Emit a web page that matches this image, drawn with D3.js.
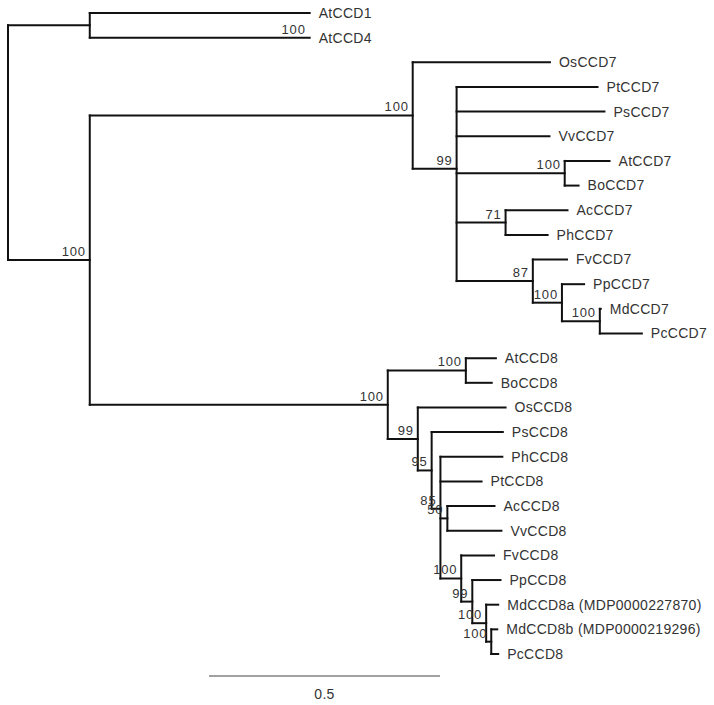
<!DOCTYPE html>
<html>
<head>
<meta charset="utf-8">
<script src="https://cdn.jsdelivr.net/npm/d3@7/dist/d3.min.js"></script>
<style>
  html, body { margin: 0; padding: 0; background: #fff; }
  svg { display: block; }
  .leaf { font-family: "Liberation Sans", Arial, sans-serif; font-size: 14px; fill: #333; letter-spacing: 0.3px; }
  .sup { font-family: "Liberation Sans", Arial, sans-serif; font-size: 13px; fill: #333; letter-spacing: 0.8px; }
</style>
</head>
<body>
<svg id="chart" width="714" height="705"></svg>
<script>
// Tree topology (parent of each node), branch lengths (substitutions/site) and bootstrap support
const nodeIds = [
  "root",
  "N_At14", "AtCCD1", "AtCCD4",
  "N_main",
  "N_CCD7", "OsCCD7", "N7_99", "PtCCD7", "PsCCD7", "VvCCD7",
  "N7_AtBo", "AtCCD7", "BoCCD7",
  "N7_AcPh", "AcCCD7", "PhCCD7",
  "N7_Fv", "FvCCD7", "N7_Pp", "PpCCD7", "N7_MdPc", "MdCCD7", "PcCCD7",
  "N_CCD8", "N8_AtBo", "AtCCD8", "BoCCD8",
  "N8_99", "OsCCD8", "N8_95", "PsCCD8", "N8_85", "PhCCD8", "PtCCD8",
  "N8_50", "AcCCD8", "VvCCD8",
  "N8_Fv", "FvCCD8", "N8_Pp", "PpCCD8", "N8_Md", "MdCCD8a (MDP0000227870)",
  "N8_MdPc", "MdCCD8b (MDP0000219296)", "PcCCD8"
];
const parentIds = [
  "",
  "root", "N_At14", "N_At14",
  "root",
  "N_main", "N_CCD7", "N_CCD7", "N7_99", "N7_99", "N7_99",
  "N7_99", "N7_AtBo", "N7_AtBo",
  "N7_99", "N7_AcPh", "N7_AcPh",
  "N7_99", "N7_Fv", "N7_Fv", "N7_Pp", "N7_Pp", "N7_MdPc", "N7_MdPc",
  "N_main", "N_CCD8", "N8_AtBo", "N8_AtBo",
  "N_CCD8", "N8_99", "N8_99", "N8_95", "N8_95", "N8_85", "N8_85",
  "N8_85", "N8_50", "N8_50",
  "N8_85", "N8_Fv", "N8_Fv", "N8_Pp", "N8_Pp", "N8_Md",
  "N8_Md", "N8_MdPc", "N8_MdPc"
];
const branchLengths = [
  0,
  0.177, 0.476, 0.476,
  0.177,
  0.699, 0.297, 0.095, 0.305, 0.320, 0.201,
  0.234, 0.097, 0.030,
  0.106, 0.134, 0.091,
  0.165, 0.074, 0.063, 0.048, 0.082, 0.002, 0.091,
  0.645, 0.169, 0.065, 0.056,
  0.065, 0.190, 0.030, 0.154, 0.019, 0.134, 0.089,
  0.015, 0.102, 0.117,
  0.045, 0.071, 0.024, 0.061, 0.030, 0.026,
  0.011, 0.013, 0.015
];
const supports = [
  null,
  null, null, 100,
  100,
  100, null, 99, null, null, null,
  100, null, null,
  71, null, null,
  87, null, 100, null, 100, null, null,
  100, 100, null, null,
  99, null, 95, null, 85, null, null,
  50, null, null,
  100, null, 99, null, 100, null,
  100, null, null
];
const scaleBarValue = 0.5;
const scaleBarLabel = "0.5";

const table = nodeIds.map((id, i) => ({
  id, parent: parentIds[i] || null, len: branchLengths[i], support: supports[i], order: i
}));

const root = d3.stratify().id(d => d.id).parentId(d => d.parent)(table);
root.sort((a, b) => a.data.order - b.data.order);

// cumulative distance from root
root.eachBefore(n => { n.dist = n.parent ? n.parent.dist + n.data.len : 0; });

const x = d3.scaleLinear().domain([0, 1]).range([8, 470]);
const leaves = root.leaves();
const y = d3.scalePoint().domain(leaves.map(d => d.data.id)).range([13, 654]);

root.eachAfter(n => {
  n.px = x(n.dist);
  if (!n.children) n.py = y(n.data.id);
  else n.py = d3.mean(n.children, c => c.py);
});

const svg = d3.select("#chart");
const g = svg.append("g");

const nonRoot = root.descendants().filter(n => n.parent);
// horizontal branches
g.selectAll("line.h").data(nonRoot).join("line")
  .attr("class", "h")
  .attr("x1", d => d.parent.px).attr("x2", d => d.px)
  .attr("y1", d => d.py).attr("y2", d => d.py)
  .attr("stroke", "#111").attr("stroke-width", 2).attr("stroke-linecap", "square");

// vertical connectors
const internal = root.descendants().filter(n => n.children);
g.selectAll("line.v").data(internal).join("line")
  .attr("class", "v")
  .attr("x1", d => d.px).attr("x2", d => d.px)
  .attr("y1", d => d3.min(d.children, c => c.py))
  .attr("y2", d => d3.max(d.children, c => c.py))
  .attr("stroke", "#111").attr("stroke-width", 2).attr("stroke-linecap", "square");

// leaf labels
g.selectAll("text.leaf").data(leaves).join("text")
  .attr("class", "leaf")
  .attr("x", d => d.px + 9)
  .attr("y", d => d.py)
  .attr("dy", "0.35em")
  .text(d => d.data.id);

// support values
g.selectAll("text.sup").data(root.descendants().filter(n => n.data.support != null)).join("text")
  .attr("class", "sup")
  .attr("text-anchor", "end")
  .attr("x", d => d.px - 4)
  .attr("y", d => d.py - 4)
  .text(d => d.data.support);

// scale bar
const barX0 = 209, barY = 676;
const barLen = x(scaleBarValue) - x(0);
svg.append("line")
  .attr("x1", barX0).attr("x2", barX0 + barLen)
  .attr("y1", barY).attr("y2", barY)
  .attr("stroke", "#444").attr("stroke-width", 1.2);
svg.append("text")
  .attr("class", "leaf")
  .attr("text-anchor", "middle")
  .attr("x", barX0 + barLen / 2)
  .attr("y", barY + 23)
  .text(scaleBarLabel);
</script>
</body>
</html>
